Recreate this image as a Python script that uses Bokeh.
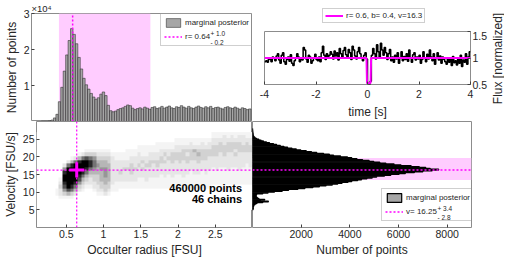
import numpy as np
from bokeh.plotting import figure
from bokeh.layouts import column, row
from bokeh.models import (Range1d, FixedTicker, BoxAnnotation, Label, Legend,
                          LegendItem, LinearColorMapper, Span)
from bokeh.embed import file_html
from bokeh.resources import INLINE

# ---------------- data ----------------
# marginal posterior of occulter radius (counts in units of 1e4)
R_BIN_START = 0.10
R_BIN_WIDTH = 0.032
R_COUNTS_E4 = [0.0, 0.005, 0.005, 0.005, 0.01, 0.01, 0.01, 0.02, 0.04, 0.1, 0.2,
               0.55, 0.95, 1.4, 1.85, 2.25, 2.58, 2.42, 2.16, 1.78, 1.46, 1.2,
               1.02, 0.9, 0.78, 0.68, 0.62, 0.66, 0.76, 0.82, 0.72, 0.45, 0.3,
               0.27, 0.29, 0.33, 0.36, 0.38, 0.42, 0.46, 0.44, 0.37, 0.33,
               0.36, 0.38, 0.35, 0.4, 0.37, 0.34, 0.39, 0.41, 0.36, 0.38, 0.42,
               0.37, 0.4, 0.43, 0.38, 0.36, 0.41, 0.39, 0.44, 0.4, 0.37, 0.42,
               0.38, 0.36, 0.4, 0.43, 0.39, 0.37, 0.41, 0.38, 0.42, 0.36, 0.39,
               0.4, 0.37, 0.35, 0.39, 0.41, 0.38, 0.36, 0.4, 0.37, 0.34, 0.38,
               0.36, 0.33, 0.35]
R_MED, R_LO, R_HI = 0.64, 0.46, 1.66

# marginal posterior of velocity (counts)
V_BIN_START = 5.0
V_BIN_WIDTH = 0.25
V_COUNTS = [20, 30, 25, 40, 50, 60, 110, 180, 420, 650, 320, 500, 260, 200,
            110, 160, 90, 170, 420, 640, 900, 1220, 1480, 1860, 2150, 2480,
            2750, 3020, 3280, 3500, 3680, 3920, 4080, 4320, 4480, 4700, 4920,
            5100, 5420, 5680, 6020, 6280, 6650, 7000, 7380, 7650, 7300, 7120,
            6850, 6520, 6100, 5820, 5480, 5230, 4980, 4790, 4520, 4290, 4080,
            3900, 3620, 3330, 3160, 2920, 2640, 2420, 2210, 1980, 1800, 1620,
            1440, 1290, 1140, 990, 860, 700, 570, 450, 350, 260, 170, 110, 70,
            45, 30, 25, 20, 15, 10, 8, 5, 3]
V_MED, V_LO, V_HI = 16.25, 13.45, 19.65

# joint 2D histogram: per radius column, first velocity bin and density levels (0-9)
R2_START, R2_STEP = 0.10, 0.05
V2_START, V2_STEP, V2_ROWS = 5, 1, 22
COL_VLO = [5, 5, 5, 5, 5, 9, 8, 8, 8, 8, 9, 10, 10, 11, 11, 10, 9, 9, 9, 9,
           10, 10, 11, 11, 11, 11, 11, 11, 11, 11, 11, 11, 11, 11, 11, 11, 11,
           11, 11, 11, 11, 11, 11, 11, 11, 11, 11, 12, 12, 12, 12, 12, 12, 12,
           12, 12, 12, 12]
COL_LEVELS = ["", "", "", "", "", "11", "122321", "1357899852", "14799999962",
              "136899999841", "24689999962", "23578999841", "12346899962",
              "12346899731", "12234688631", "122334566531", "1223334454321",
              "1233444544321", "2334455544321", "1233444443321", "11222222221",
              "11122222211", "1122322211", "1122232211", "11222322111",
              "11223332211", "11222322211", "111222322211", "111223232111",
              "112222322111", "111222332211", "111222232211", "1112223322111",
              "1111222332211", "1112222323211", "1111222232211", "1112222333211",
              "11112222332211", "11112223332211", "11122222333211",
              "11112223323211", "11111222333221", "11112222334211",
              "11112223343211", "11111222333221", "11112222333211",
              "11111222233221", "111112223332211", "111122223332211",
              "111112222333211", "111112223332221", "111122222333211",
              "111112222333221", "111112223233211", "111122222333221",
              "111112222332221", "111111222333211", "111112222332211"]
N_POINTS_TEXT = "460000 points"
N_CHAINS_TEXT = "46 chains"

# light curve (time step 0.05 s from -4 s)
T_START, T_STEP = -4.0, 0.05
FLUX = [0.93, 0.95, 0.92, 1.0, 0.97, 0.93, 1.02, 0.99, 0.95, 1.04,
        1.08, 0.96, 0.9, 1.05, 1.1, 0.93, 0.88, 0.97, 1.02, 0.94,
        1.06, 0.9, 0.86, 0.95, 1.0, 1.08, 1.02, 0.93, 0.97, 0.96,
        1.2, 1.15, 0.98, 0.92, 1.05, 1.02, 0.9, 0.95, 1.0, 1.07,
        0.97, 0.95, 1.02, 0.93, 1.1, 1.22, 1.05, 0.97, 1.08, 1.0,
        1.05, 1.12, 1.07, 0.98, 1.13, 1.04, 1.1, 0.96, 1.18, 1.08,
        1.02, 1.14, 1.2, 1.06, 1.0, 1.16, 1.1, 0.97, 1.22, 1.15,
        1.04, 0.98, 1.12, 1.2, 1.08, 1.0, 0.95, 1.05, 1.1, 0.98,
        0.52, 0.5, 0.56, 1.05, 1.18, 1.08, 0.98, 1.25, 1.12, 1.02,
        1.28, 1.15, 1.05, 1.2, 1.1, 0.97, 1.08, 1.16, 0.95, 1.02,
        0.92, 1.05, 0.98, 1.1, 0.9, 1.0, 1.12, 0.95, 1.03, 0.97,
        1.08, 0.94, 1.15, 1.0, 0.92, 1.06, 1.1, 0.96, 1.02, 0.98,
        1.05, 0.9, 0.97, 1.12, 1.0, 0.93, 1.07, 0.98, 1.15, 1.02,
        0.95, 1.08, 0.88, 1.0, 1.1, 0.96, 1.04, 0.9, 1.02, 0.97,
        0.93, 0.88, 1.0, 0.92, 0.97, 0.86, 1.03, 0.91, 0.95, 0.87,
        0.98, 0.9, 1.05, 0.84, 0.96, 0.92, 1.08, 0.88, 1.02, 1.12]
MODEL_T = [-4.0, -0.04, -0.02, 0.12, 0.14, 4.0]
MODEL_F = [1.0, 1.0, 0.53, 0.53, 1.0, 1.0]
MODEL_LABEL = "r= 0.6, b= 0.4, v=16.3"

# ---------------- style ----------------
FONT = "Liberation Sans"
TXT = "#262626"
AXC = "#8c8c8c"
MAG = "#ff00ff"
BAND = "#ffccff"
BARF = "#a6a6a6"
GRAYS = ["#%02x%02x%02x" % (g, g, g) for g in [255, 244, 230, 210, 182, 150, 115, 80, 40, 0]]
LEG_FS = "8px"


def style(p):
    p.outline_line_color = AXC
    p.outline_line_width = 1
    p.background_fill_color = "white"
    p.border_fill_color = "white"
    p.grid.visible = False
    for ax in p.axis:
        ax.axis_line_color = None
        ax.major_tick_in = 3
        ax.major_tick_out = 0
        ax.minor_tick_line_color = None
        ax.major_tick_line_color = "#404040"
        ax.major_label_text_font = FONT
        ax.major_label_text_font_size = "10.5px"
        ax.major_label_text_color = TXT
        ax.axis_label_text_font = FONT
        ax.axis_label_text_font_size = "12px"
        ax.axis_label_text_font_style = "normal"
        ax.axis_label_text_color = TXT
        ax.major_label_standoff = 2
        ax.axis_label_standoff = 2


def legend(items, loc, pad=3, gh=11, sp=3):
    return Legend(items=items, location=loc, padding=pad, spacing=sp, margin=0,
                  glyph_width=18, glyph_height=gh, label_height=gh, label_standoff=3,
                  label_text_font=FONT, label_text_font_size=LEG_FS,
                  label_text_color=TXT, border_line_color="#a0a0a0",
                  border_line_width=1, background_fill_color="white",
                  background_fill_alpha=0)


def small(x, y, text, baseline):
    return Label(x=x, y=y, x_units="screen", y_units="screen", text=text,
                 text_font=FONT, text_font_size="6.5px", text_color=TXT,
                 text_baseline=baseline)


def fmt(vals):
    return {v: ("%g" % v) for v in vals}


def fig(**kw):
    return figure(output_backend="svg", toolbar_location=None, frame_align=False, **kw)


x_r = Range1d(0.1, 3.0)
y_v = Range1d(0, 30)

# ---------- A: radius marginal ----------
pa = fig(width=252, height=121, x_range=x_r, y_range=Range1d(0, 3),
         min_border_left=31, min_border_right=0, min_border_top=12, min_border_bottom=0)
style(pa)
pa.title.text = "×10⁴"
pa.title.align = "left"
pa.title.offset = 0
pa.title.standoff = 0
pa.title.text_font = FONT
pa.title.text_font_size = "9.5px"
pa.title.text_font_style = "normal"
pa.title.text_color = TXT
pa.xaxis.visible = False
pa.yaxis.ticker = FixedTicker(ticks=[1, 2, 3])
pa.yaxis.major_label_overrides = fmt([1, 2, 3])
pa.yaxis.axis_label = "Number of points"
pa.add_layout(BoxAnnotation(left=R_LO, right=R_HI, fill_color=BAND, fill_alpha=1,
                            line_color=None, level="underlay"))
r_centers = [R_BIN_START + R_BIN_WIDTH * (i + 0.5) for i in range(len(R_COUNTS_E4))]
bars_a = pa.vbar(x=r_centers, width=R_BIN_WIDTH, top=R_COUNTS_E4, bottom=0,
                 fill_color=BARF, line_color="#1a1a1a", line_width=0.5)
med_a = pa.segment(x0=[R_MED], y0=[0], x1=[R_MED], y1=[3], line_color=MAG,
                   line_dash="2 2", line_width=1.5)
pa.add_layout(small(179, 84.5, "+ 1.0", "bottom"))
pa.add_layout(small(179, 82.5, "- 0.2", "top"))
pa.add_layout(legend([LegendItem(label="marginal posterior", renderers=[bars_a]),
                      LegendItem(label="r= %.2f" % R_MED, renderers=[med_a])], (129, 75)))

# ---------- B: light curve (legend strip + panel + side label) ----------
# legend strip: the model line is drawn outside its (empty) view, only the legend shows
pl = fig(width=238, height=31, x_axis_type=None, y_axis_type=None,
         x_range=Range1d(10, 11), y_range=Range1d(10, 11),
         min_border_left=12, min_border_right=19, min_border_top=0, min_border_bottom=0)
pl.outline_line_color = None
pl.grid.visible = False
leg_line = pl.line(x=MODEL_T, y=MODEL_F, line_color=MAG, line_width=2)
pl.add_layout(legend([LegendItem(label=MODEL_LABEL, renderers=[leg_line])], (58, 8),
                     pad=2, gh=9))

pb = fig(width=238, height=90, x_range=Range1d(-4, 4), y_range=Range1d(0.5, 1.5),
         y_axis_location="right",
         min_border_left=12, min_border_right=19, min_border_top=0, min_border_bottom=36)
style(pb)
pb.xaxis.ticker = FixedTicker(ticks=[-4, -2, 0, 2, 4])
pb.xaxis.major_label_overrides = fmt([-4, -2, 0, 2, 4])
pb.xaxis.axis_label = "time [s]"
pb.xaxis.major_label_standoff = 5
pb.xaxis.axis_label_standoff = 4
pb.yaxis.ticker = FixedTicker(ticks=[0.5, 1, 1.5])
pb.yaxis.major_label_overrides = fmt([0.5, 1, 1.5])
t = [T_START + T_STEP * i for i in range(len(FLUX))]
pb.step(t + [t[-1] + T_STEP], FLUX + [FLUX[-1]], mode="after", line_color="black",
        line_width=1.5)
pb.line(MODEL_T, MODEL_F, line_color=MAG, line_width=2)

pf = fig(width=14, height=121, x_axis_type=None, y_axis_type=None,
         min_border_left=0, min_border_right=0, min_border_top=0, min_border_bottom=0)
pf.outline_line_color = None
pf.grid.visible = False
pf.add_layout(Label(x=7, y=63, x_units="screen", y_units="screen",
                    text="Flux [normalized]", angle=np.pi / 2, text_align="center",
                    text_baseline="middle", text_font=FONT, text_font_size="12px",
                    text_color=TXT))

# ---------- C: joint distribution ----------
pc = fig(width=252, height=138, x_range=x_r, y_range=y_v,
         min_border_left=31, min_border_right=0, min_border_top=0, min_border_bottom=30)
style(pc)
arr = np.zeros((V2_ROWS, len(COL_LEVELS)))
for c, (vlo, s) in enumerate(zip(COL_VLO, COL_LEVELS)):
    for k, ch in enumerate(s):
        arr[vlo - V2_START + k, c] = int(ch)
pc.image(image=[arr], x=R2_START, y=V2_START, dw=R2_STEP * len(COL_LEVELS),
         dh=V2_STEP * V2_ROWS,
         color_mapper=LinearColorMapper(palette=GRAYS, low=-0.5, high=9.5))
pc.add_layout(Span(location=R_MED, dimension="height", line_color=MAG,
                   line_dash="2 2", line_width=1.2))
pc.add_layout(Span(location=V_MED, dimension="width", line_color=MAG,
                   line_dash="2 2", line_width=1.2))
pc.scatter([R_MED], [V_MED], marker="cross", size=15, line_width=3, line_color=MAG)
pc.xaxis.ticker = FixedTicker(ticks=[0.5, 1, 1.5, 2, 2.5])
pc.xaxis.major_label_overrides = fmt([0.5, 1, 1.5, 2, 2.5])
pc.xaxis.axis_label = "Occulter radius [FSU]"
pc.yaxis.ticker = FixedTicker(ticks=[5, 10, 15, 20, 25])
pc.yaxis.major_label_overrides = fmt([5, 10, 15, 20, 25])
pc.yaxis.axis_label = "Velocity [FSU/s]"
pc.add_layout(Label(x=2.86, y=11.3, text=N_POINTS_TEXT, text_align="right",
                    text_baseline="middle", text_font=FONT, text_font_size="11px",
                    text_font_style="bold", text_color="black"))
pc.add_layout(Label(x=2.86, y=8.1, text=N_CHAINS_TEXT, text_align="right",
                    text_baseline="middle", text_font=FONT, text_font_size="11px",
                    text_font_style="bold", text_color="black"))

# ---------- D: velocity marginal ----------
pdv = fig(width=252, height=138, x_range=Range1d(0, 9000), y_range=y_v,
          min_border_left=0, min_border_right=33, min_border_top=0, min_border_bottom=30)
style(pdv)
pdv.yaxis.visible = False
pdv.add_layout(BoxAnnotation(bottom=V_LO, top=V_HI, fill_color=BAND, fill_alpha=1,
                             line_color=None, level="underlay"))
v_centers = [V_BIN_START + V_BIN_WIDTH * (i + 0.5) for i in range(len(V_COUNTS))]
bars_d = pdv.hbar(y=v_centers, height=V_BIN_WIDTH, left=0, right=V_COUNTS,
                  fill_color=BARF, line_color="black", line_width=1.2)
med_d = pdv.segment(x0=[0], y0=[V_MED], x1=[9000], y1=[V_MED], line_color=MAG,
                    line_dash="2 2", line_width=1.5)
pdv.xaxis.ticker = FixedTicker(ticks=[2000, 4000, 6000, 8000])
pdv.xaxis.major_label_overrides = fmt([2000, 4000, 6000, 8000])
pdv.xaxis.axis_label = "Number of points"
pdv.add_layout(small(185, 15.5, "+ 3.4", "bottom"))
pdv.add_layout(small(185, 13.5, "- 2.8", "top"))
pdv.add_layout(legend([LegendItem(label="marginal posterior", renderers=[bars_d]),
                       LegendItem(label="v= %.2f" % V_MED, renderers=[med_d])], (129, 6)))

layout = column(row(pa, column(pl, pb), pf), row(pc, pdv))
open("out.html", "w").write(file_html(layout, INLINE))
